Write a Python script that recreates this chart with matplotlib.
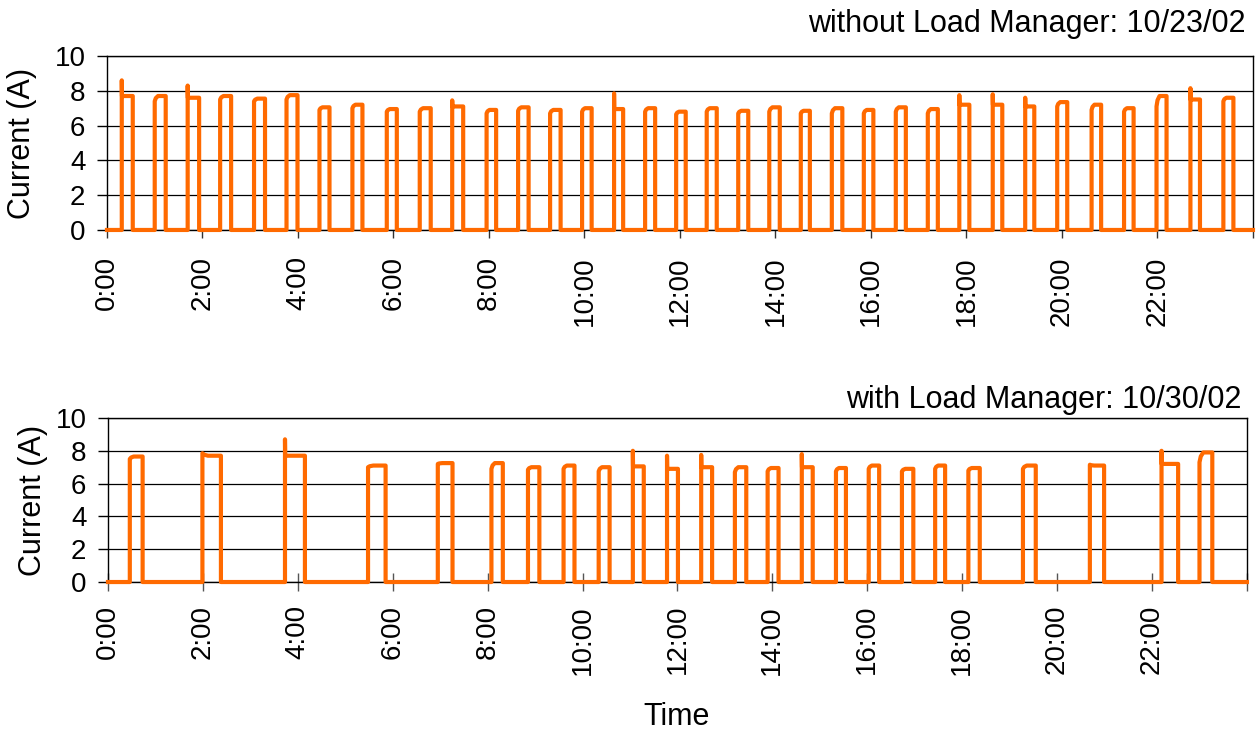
import matplotlib
matplotlib.use("Agg")
import matplotlib.pyplot as plt

plt.rcParams['font.family'] = ['Liberation Sans', 'DejaVu Sans']

ORANGE = "#ff6a00"

# pulses, times in hours
# without load manager, 10/23/02
top_on = [0.31, 1.00, 1.69, 2.37, 3.08, 3.76, 4.45, 5.14, 5.86, 6.55, 7.23, 7.95,
          8.61, 9.28, 9.95, 10.62, 11.27, 11.92, 12.56, 13.22, 13.87, 14.53, 15.18,
          15.85, 16.52, 17.19, 17.85, 18.55, 19.23, 19.90, 20.62, 21.30, 21.98,
          22.69, 23.38]
top_off = [0.54, 1.23, 1.93, 2.60, 3.31, 3.99, 4.66, 5.35, 6.07, 6.78, 7.46, 8.15,
           8.83, 9.50, 10.15, 10.81, 11.48, 12.12, 12.77, 13.43, 14.09, 14.72, 15.40,
           16.05, 16.73, 17.40, 18.06, 18.75, 19.42, 20.11, 20.82, 21.50, 22.19,
           22.89, 23.59]
top_first = [8.6, 7.4, 8.3, 7.5, 7.4, 7.5, 6.9, 7.0, 6.8, 6.8, 7.45, 6.7,
             6.85, 6.7, 6.8, 7.85, 6.8, 6.65, 6.8, 6.7, 6.8, 6.7, 6.7,
             6.7, 6.8, 6.7, 7.75, 7.8, 7.6, 7.1, 6.9, 6.8, 7.1,
             8.15, 7.4]
top_level = [7.7, 7.7, 7.6, 7.7, 7.55, 7.75, 7.05, 7.2, 6.95, 7.0, 7.1, 6.9,
             7.05, 6.9, 7.0, 6.95, 7.0, 6.8, 7.0, 6.85, 7.05, 6.85, 7.0,
             6.9, 7.05, 6.95, 7.2, 7.2, 7.1, 7.35, 7.2, 7.0, 7.7,
             7.5, 7.6]

# with load manager, 10/30/02
bot_on = [0.46, 1.99, 3.73, 5.48, 6.95, 8.08, 8.85, 9.60, 10.34, 11.06, 11.78,
          12.50, 13.21, 13.90, 14.62, 15.34, 16.03, 16.73, 17.43, 18.13, 19.28,
          20.69, 22.20, 23.00]
bot_off = [0.73, 2.38, 4.15, 5.85, 7.26, 8.32, 9.09, 9.83, 10.57, 11.29, 12.01,
           12.73, 13.45, 14.13, 14.85, 15.55, 16.25, 16.97, 17.64, 18.37, 19.55,
           20.99, 22.55, 23.27]
bot_first = [7.5, 7.85, 8.7, 7.0, 7.2, 6.9, 6.85, 6.9, 6.75, 8.0, 7.7,
             7.75, 6.7, 6.75, 7.8, 6.75, 6.9, 6.75, 6.9, 6.8, 6.9,
             7.15, 8.0, 7.3]
bot_level = [7.65, 7.7, 7.7, 7.1, 7.25, 7.25, 7.0, 7.1, 7.0, 7.05, 6.9,
             7.0, 7.0, 6.95, 7.0, 6.95, 7.1, 6.9, 7.1, 6.95, 7.1,
             7.1, 7.2, 7.9]

hour_ticks = list(range(0, 25, 2))
hour_labels = ["%d:00" % h for h in range(0, 24, 2)] + [""]


def build_trace(on, off, first, level, t_end=24.0):
    """step trace of the compressor current from the pulse lists"""
    t, y = [0.0], [0.0]
    for a, b, f, lv in zip(on, off, first, level):
        dur = b - a
        t += [a, a]
        y += [0.0, f]
        if f > lv + 0.25:
            # inrush spike, drops straight back to the running level
            t += [a + 0.004]
            y += [lv]
        else:
            # current creeps up for the first part of the cycle
            t += [a + 0.1 * dur, a + 0.3 * dur]
            y += [f + 0.6 * (lv - f), lv]
        t += [b, b]
        y += [lv, 0.0]
    t.append(t_end)
    y.append(0.0)
    return t, y


def setup_axes(ax, cross_ticks):
    ax.set_xlim(0, 24)
    ax.set_ylim(0, 10)
    ax.set_yticks(range(0, 11, 2))
    ax.set_xticks(hour_ticks)
    ax.set_xticklabels(hour_labels, rotation=90, fontsize=20)
    ax.tick_params(axis="y", labelsize=20, length=7.5, width=1, pad=8)
    ax.grid(axis="y", color="black", linewidth=0.9)
    ax.set_axisbelow(True)
    if cross_ticks:
        ax.tick_params(axis="x", direction="inout", length=13, width=1,
                       color="#555555", pad=10)
    else:
        ax.tick_params(axis="x", direction="out", length=6, width=1,
                       color="#333333", pad=13)
    for s in ax.spines.values():
        s.set_linewidth(1)
        s.set_color("black")
    ax.set_ylabel("Current (A)", fontsize=22)


fig = plt.figure(figsize=(12.57, 7.31), dpi=100)
ax1 = fig.add_axes([0.0851, 0.6854, 0.9117, 0.2380])
ax2 = fig.add_axes([0.0859, 0.2038, 0.9061, 0.2244])

tx, ty = build_trace(top_on, top_off, top_first, top_level)
bx, by = build_trace(bot_on, bot_off, bot_first, bot_level)

ax1.plot(tx, ty, color=ORANGE, lw=3.0, solid_joinstyle="round", clip_on=False, zorder=3)
ax2.plot(bx, by, color=ORANGE, lw=3.0, solid_joinstyle="round", clip_on=False, zorder=3)

setup_axes(ax1, cross_ticks=False)
setup_axes(ax2, cross_ticks=True)
ax1.yaxis.set_label_coords(-0.061, 0.5)
ax2.yaxis.set_label_coords(-0.053, 0.5)

fig.text(0.9905, 0.9566, "without Load Manager: 10/23/02", ha="right",
         va="baseline", fontsize=22)
fig.text(0.9873, 0.4419, "with Load Manager: 10/30/02", ha="right",
         va="baseline", fontsize=22)
fig.text(0.5383, 0.0082, "Time", ha="center", va="baseline", fontsize=22)

fig.savefig("out.png", dpi=100)
